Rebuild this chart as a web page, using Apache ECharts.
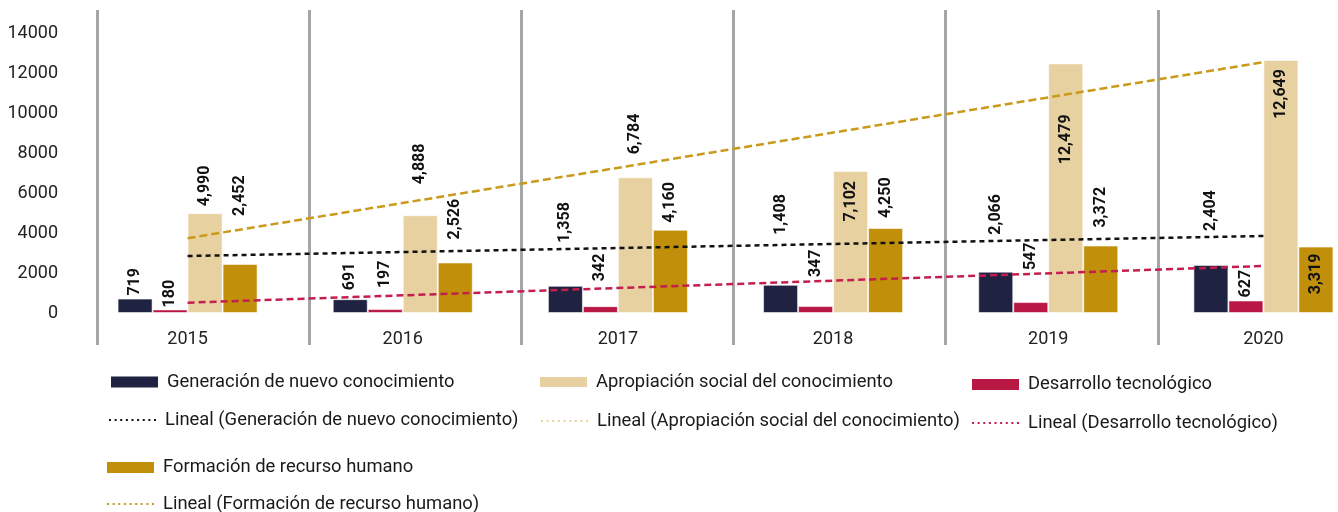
<!DOCTYPE html>
<html>
<head>
<meta charset="utf-8">
<script src="https://cdn.jsdelivr.net/npm/echarts@6/dist/echarts.min.js"></script>
<style>
  html, body { margin: 0; padding: 0; background: #fff; overflow: hidden; }
  /* the plot runs slightly past the right edge of the page */
  #chart { width: 1380px; height: 512px; }
</style>
</head>
<body>
<div id="chart"></div>
<script>
// Years and yearly totals by product type
const categories = ['2015', '2016', '2017', '2018', '2019', '2020'];
const generacion = [719, 691, 1358, 1408, 2066, 2404];
const desarrollo = [180, 197, 342, 347, 547, 627];
const apropiacion = [4990, 4888, 6784, 7102, 12479, 12649];
const formacion = [2452, 2526, 4160, 4250, 3372, 3319];

// Linear trend lines: value at the first and at the last year
const trendGeneracion = [2850, 3850];
const trendDesarrollo = [515, 2350];
const trendFormacion = [3740, 12540];

// Value axis tick labels
const yTicks = [0, 2000, 4000, 6000, 8000, 10000, 12000, 14000];

// Label placement (px above the bar top; negative = inside, below the bar top)
const labelShift = {
  gen: [3, 9, 43, 50, 37, 34],
  des: [2, 21, 25, 29, 32, 3],
  apr: [7, 31, 23, -10, -51, -9],
  frm: [48, 23, 7, 10, 18, -7]
};

const FONT = 'Roboto, "Noto Sans", sans-serif';
const C = {
  navy: '#1f2341',
  crimson: '#b91845',
  beige: '#e8d1a0',
  gold: '#c18f0a',
  goldLine: '#c99a1c',
  redLine: '#c41e4f',
  blackLine: '#111111',
  sep: '#a6a6a6',
  text: '#1a1a1a'
};

const NAMES = {
  gen: 'Generación de nuevo conocimiento',
  apr: 'Apropiación social del conocimiento',
  des: 'Desarrollo tecnológico',
  frm: 'Formación de recurso humano',
  lgen: 'Lineal (Generación de nuevo conocimiento)',
  lapr: 'Lineal (Apropiación social del conocimiento)',
  ldes: 'Lineal (Desarrollo tecnológico)',
  lfrm: 'Lineal (Formación de recurso humano)'
};

const fmt = v => Number(v).toLocaleString('en-US');

function barData(values, shifts) {
  return values.map((v, i) => {
    const s = shifts[i];
    const label = s >= 0
      ? { position: 'top', distance: s, align: 'left' }
      : { position: 'insideTop', distance: -s, align: 'right' };
    return { value: v, label: label };
  });
}

function barSeries(name, values, shifts, color) {
  return {
    name: name,
    type: 'bar',
    xAxisIndex: 0,
    yAxisIndex: 0,
    barWidth: 35,
    barGap: '0%',
    itemStyle: { color: color, borderColor: 'rgba(255,255,255,0.55)', borderWidth: 1 },
    label: {
      show: true,
      rotate: 90,
      verticalAlign: 'middle',
      fontFamily: FONT,
      fontWeight: 'bold',
      fontSize: 16,
      color: '#111',
      formatter: p => fmt(p.value)
    },
    data: barData(values, shifts),
    z: 2
  };
}

function trendSeries(name, ends, color, dash, width) {
  return {
    name: name,
    type: 'line',
    xAxisIndex: 0,
    yAxisIndex: 0,
    symbol: 'none',
    silent: true,
    itemStyle: { color: color },
    lineStyle: { color: color, width: width, type: dash },
    data: ends.length ? [[categories[0], ends[0]], [categories[categories.length - 1], ends[1]]] : [],
    z: 4
  };
}

// small dotted line used as the legend marker of the trend lines
const dotted = 'path://' + [0, 5.6, 11.2, 16.8, 22.4, 28, 33.6, 39.2, 44.8]
  .map(x => 'M' + x + ' 0h2v2h-2z').join(' ');

function legend(name, icon, left, top, w, h) {
  return {
    data: [{ name: name, icon: icon }],
    left: left,
    top: top,
    orient: 'horizontal',
    padding: 0,
    itemWidth: w,
    itemHeight: h,
    selectedMode: false,
    itemStyle: { borderWidth: 0 },
    textStyle: {
      fontFamily: FONT,
      fontSize: 18.4,
      color: C.text,
      lineHeight: 20,
      padding: [0, 0, 0, 4]
    }
  };
}

const chart = echarts.init(document.getElementById('chart'), null, { renderer: 'canvas' });

chart.setOption({
  animation: false,
  backgroundColor: '#ffffff',
  grid: [
    { left: 80, top: 33, width: 1291, height: 280 },
    { left: 97, top: 10, width: 1273, height: 335 }
  ],
  xAxis: [
    {
      type: 'category',
      gridIndex: 0,
      data: categories,
      axisLine: { show: false },
      axisTick: { show: false },
      splitLine: { show: false },
      axisLabel: { fontFamily: FONT, fontSize: 18, color: '#222', margin: 17 }
    },
    {
      // year separators
      type: 'value',
      gridIndex: 1,
      min: 0,
      max: 6,
      interval: 1,
      axisLine: { show: false },
      axisTick: { show: false },
      axisLabel: { show: false },
      splitLine: { show: true, lineStyle: { color: C.sep, width: 3 } }
    }
  ],
  yAxis: [
    {
      type: 'value',
      gridIndex: 0,
      min: yTicks[0],
      max: yTicks[yTicks.length - 1],
      interval: yTicks[1] - yTicks[0],
      axisLine: { show: false },
      axisTick: { show: false },
      splitLine: { show: false },
      axisLabel: {
        fontFamily: FONT, fontSize: 18, color: '#222', margin: 22,
        formatter: v => String(v)
      }
    },
    {
      type: 'value',
      gridIndex: 1,
      show: false,
      min: 0,
      max: 1,
      splitLine: { show: false }
    }
  ],
  legend: [
    legend(NAMES.gen, 'rect', 111, 372, 47, 11),
    legend(NAMES.apr, 'rect', 540, 372, 47, 10),
    legend(NAMES.des, 'rect', 972, 374.5, 47, 11),
    legend(NAMES.lgen, dotted, 109, 410, 47, 2.5),
    legend(NAMES.lapr, dotted, 541, 411, 47, 2.5),
    legend(NAMES.ldes, dotted, 972, 413, 47, 2.5),
    legend(NAMES.frm, 'rect', 107, 457.5, 47, 11),
    legend(NAMES.lfrm, dotted, 107, 494, 47, 2.5)
  ],
  series: [
    barSeries(NAMES.gen, generacion, labelShift.gen, C.navy),
    barSeries(NAMES.des, desarrollo, labelShift.des, C.crimson),
    barSeries(NAMES.apr, apropiacion, labelShift.apr, C.beige),
    barSeries(NAMES.frm, formacion, labelShift.frm, C.gold),
    trendSeries(NAMES.lgen, trendGeneracion, C.blackLine, [5, 4], 2.5),
    trendSeries(NAMES.lapr, [], C.beige, [5, 4], 2.5),
    trendSeries(NAMES.ldes, trendDesarrollo, C.redLine, [7, 4], 2.5),
    trendSeries(NAMES.lfrm, trendFormacion, C.goldLine, [8, 4], 2.5)
  ]
});
</script>
</body>
</html>
